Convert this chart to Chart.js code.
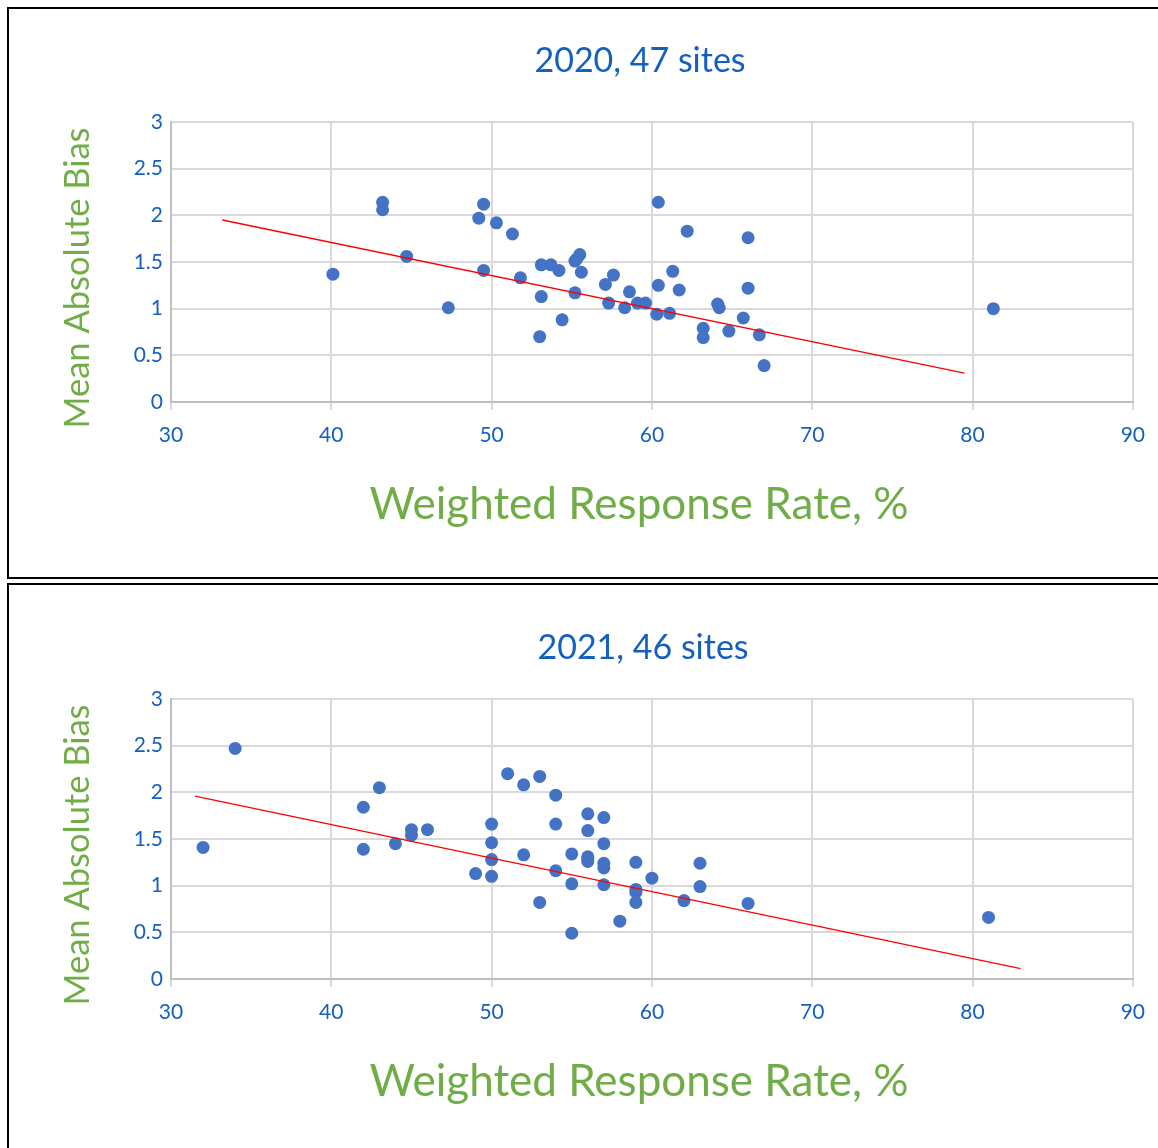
<!DOCTYPE html>
<html>
<head>
<meta charset="utf-8">
<script src="https://cdn.jsdelivr.net/npm/chart.js@4.4.0/dist/chart.umd.min.js"></script>
<style>
  html, body { margin: 0; padding: 0; background: #fff; width: 1158px; height: 1148px; overflow: hidden; }
  .box { position: absolute; left: 7px; width: 1170px; border: 2px solid #000; box-sizing: border-box; }
  #box1 { top: 7px; height: 572px; }
  #box2 { top: 583px; height: 600px; }
  .box canvas { position: absolute; left: 0; top: 0; }
  #box2 canvas { top: 1px; }
</style>
</head>
<body>
<div class="box" id="box1"><canvas id="chart2020" width="1149" height="567"></canvas></div>
<div class="box" id="box2"><canvas id="chart2021" width="1149" height="567"></canvas></div>
<script>
// Valores (taxa de resposta ponderada %, viés absoluto médio)
const rate2020 = [40.1, 43.2, 43.2, 44.7, 47.3, 49.5, 49.2, 49.5, 50.3, 51.3, 51.8, 53.1, 53.1, 53.0, 53.7,
  54.2, 54.4, 55.2, 55.5, 55.6, 55.2, 57.1, 57.6, 57.3, 58.3, 58.6, 59.1, 59.6, 60.4, 60.4, 60.3,
  61.1, 61.3, 61.7, 62.2, 63.2, 63.2, 64.1, 64.2, 64.8, 65.7, 66.0, 66.0, 66.7, 67.0, 81.3, 55.3];
const bias2020 = [1.37, 2.14, 2.06, 1.56, 1.01, 2.12, 1.97, 1.41, 1.92, 1.80, 1.33, 1.47, 1.13, 0.70, 1.47,
  1.41, 0.88, 1.51, 1.58, 1.39, 1.17, 1.26, 1.36, 1.06, 1.01, 1.18, 1.06, 1.06, 1.25, 2.14, 0.94,
  0.95, 1.40, 1.20, 1.83, 0.79, 0.69, 1.05, 1.01, 0.76, 0.90, 1.22, 1.76, 0.72, 0.39, 1.00, 1.53];
const trendX2020 = [33.2, 79.5];
const trendY2020 = [1.95, 0.31];

const rate2021 = [32, 34, 42, 42, 43, 44, 45, 45, 46, 49, 50, 50, 50, 50, 51, 52, 52, 53, 53, 54, 54, 54,
  55, 55, 55, 56, 56, 56, 56, 57, 57, 57, 57, 57, 58, 59, 59, 59, 60, 62, 63, 63, 66, 81, 59, 56];
const bias2021 = [1.41, 2.47, 1.84, 1.39, 2.05, 1.45, 1.60, 1.54, 1.60, 1.13, 1.66, 1.46, 1.28, 1.10, 2.20,
  2.08, 1.33, 2.17, 0.82, 1.97, 1.66, 1.16, 1.34, 1.02, 0.49, 1.77, 1.59, 1.31, 1.26, 1.73, 1.45,
  1.24, 1.19, 1.01, 0.62, 1.25, 0.96, 0.82, 1.08, 0.84, 1.24, 0.99, 0.81, 0.66, 0.93, 1.29];
const trendX2021 = [31.5, 83.0];
const trendY2021 = [1.96, 0.11];

const xTicks = [30, 40, 50, 60, 70, 80, 90];
const yTicks = [0, 0.5, 1, 1.5, 2, 2.5, 3];

const xTitle = 'Weighted Response Rate, %';
const yTitle = 'Mean Absolute Bias';

const BLUE_TEXT = '#1460bf';
const GREEN = '#70ad47';
const FONT = 'Lato, "Open Sans", sans-serif';

// Desenha títulos em posições fixas (o Excel não centraliza exatamente na área do gráfico)
const fixedTextPlugin = {
  id: 'fixedText',
  afterDraw(chart, args, opts) {
    const c = chart.ctx;
    (opts.items || []).forEach(it => {
      c.save();
      c.translate(it.x, it.y);
      if (it.rotate) c.rotate(-Math.PI / 2);
      c.font = it.size + 'px ' + FONT;
      c.fillStyle = it.color;
      c.textAlign = 'center';
      c.textBaseline = 'middle';
      c.fillText(it.text, 0, 0);
      c.restore();
    });
  }
};

function toPoints(xs, ys) {
  return xs.map((x, i) => ({ x: x, y: ys[i] }));
}

function renderChart(id, title, titlePos, xs, ys, tx, ty) {
  const ctx = document.getElementById(id);
  return new Chart(ctx, {
    type: 'scatter',
    plugins: [fixedTextPlugin],
    data: {
      datasets: [
        {
          type: 'line',
          data: toPoints(tx, ty),
          borderColor: '#ff0000',
          borderWidth: 1.3,
          pointRadius: 0,
          fill: false,
          order: 0
        },
        {
          data: toPoints(xs, ys),
          backgroundColor: '#4472c4',
          borderWidth: 0,
          pointRadius: 6.5,
          order: 1
        }
      ]
    },
    options: {
      responsive: false,
      animation: false,
      layout: { padding: { left: 0, right: 25, top: 113, bottom: 0 } },
      plugins: {
        legend: { display: false },
        tooltip: { enabled: false },
        title: { display: false },
        fixedText: {
          items: [
            { text: title, x: titlePos[0], y: titlePos[1], size: 34, color: BLUE_TEXT },
            { text: xTitle, x: 630, y: 496, size: 44, color: GREEN },
            { text: yTitle, x: 69, y: 269, size: 34.5, color: GREEN, rotate: true }
          ]
        }
      },
      scales: {
        x: {
          type: 'linear',
          min: xTicks[0],
          max: xTicks[xTicks.length - 1],
          afterBuildTicks: s => { s.ticks = xTicks.map(v => ({ value: v })); },
          afterFit: s => { s.height = 174; },
          grid: { color: '#d9d9d9', lineWidth: 2, tickLength: 8 },
          border: { color: '#bfbfbf', width: 2 },
          ticks: { color: BLUE_TEXT, font: { family: FONT, size: 21 }, padding: 13, maxRotation: 0,
            callback: v => String(v) }
        },
        y: {
          type: 'linear',
          min: yTicks[0],
          max: yTicks[yTicks.length - 1],
          afterBuildTicks: s => { s.ticks = yTicks.map(v => ({ value: v })); },
          afterFit: s => { s.width = 162; },
          grid: { color: '#d9d9d9', lineWidth: 2, drawTicks: false },
          border: { color: '#bfbfbf', width: 2 },
          ticks: { color: BLUE_TEXT, font: { family: FONT, size: 21 }, padding: 8,
            callback: v => String(v) }
        }
      }
    }
  });
}

renderChart('chart2020', '2020, 47 sites', [631, 52], rate2020, bias2020, trendX2020, trendY2020);
renderChart('chart2021', '2021, 46 sites', [634, 62], rate2021, bias2021, trendX2021, trendY2021);
</script>
</body>
</html>
